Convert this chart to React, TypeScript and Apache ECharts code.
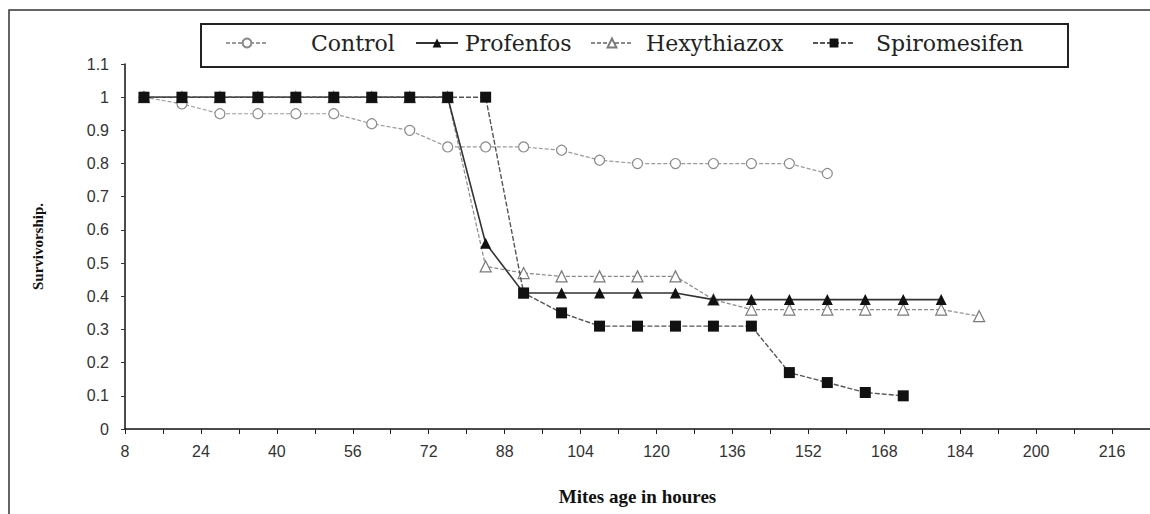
import React, { useEffect, useRef } from "react";
import * as echarts from "echarts";

const hours = [12, 20, 28, 36, 44, 52, 60, 68, 76, 84, 92, 100, 108, 116, 124, 132, 140, 148, 156, 164, 172, 180, 188];
const control = [1.0, 0.98, 0.95, 0.95, 0.95, 0.95, 0.92, 0.9, 0.85, 0.85, 0.85, 0.84, 0.81, 0.8, 0.8, 0.8, 0.8, 0.8, 0.77, null, null, null, null];
const profenfos = [1, 1, 1, 1, 1, 1, 1, 1, 1, 0.56, 0.41, 0.41, 0.41, 0.41, 0.41, 0.39, 0.39, 0.39, 0.39, 0.39, 0.39, 0.39, null];
const hexythiazox = [1, 1, 1, 1, 1, 1, 1, 1, 1, 0.49, 0.47, 0.46, 0.46, 0.46, 0.46, 0.39, 0.36, 0.36, 0.36, 0.36, 0.36, 0.36, 0.34];
const spiromesifen = [1, 1, 1, 1, 1, 1, 1, 1, 1, 1, 0.41, 0.35, 0.31, 0.31, 0.31, 0.31, 0.31, 0.17, 0.14, 0.11, 0.1, null, null];
const seriesNames = ["Control", "Profenfos", "Hexythiazox", "Spiromesifen"];
const xTitle = "Mites age in houres";
const yTitle = "Survivorship.";

function pairs(vals: (number | null)[]) {
  const out: [number, number][] = [];
  vals.forEach((v, i) => {
    if (v !== null) out.push([hours[i], v]);
  });
  return out;
}

export default function App() {
  const ref = useRef<HTMLDivElement>(null);
  useEffect(() => {
    if (!ref.current) return;
    const chart = echarts.init(ref.current, null, { renderer: "svg" });
    const styles: Record<string, any> = {
      Control: {
        symbol: "circle", symbolSize: 10,
        itemStyle: { color: "#fff", borderColor: "#8a8a8a", borderWidth: 1.2 },
        lineStyle: { color: "#9a9a9a", width: 1.2, type: [4, 2] },
        z: 2,
      },
      Profenfos: {
        symbol: "triangle", symbolSize: 11,
        itemStyle: { color: "#111", borderColor: "#111", borderWidth: 0 },
        lineStyle: { color: "#333", width: 1.6 },
        z: 4,
      },
      Hexythiazox: {
        symbol: "triangle", symbolSize: 11,
        itemStyle: { color: "#fff", borderColor: "#7a7a7a", borderWidth: 1.2 },
        lineStyle: { color: "#8a8a8a", width: 1.2, type: [4, 2] },
        z: 3,
      },
      Spiromesifen: {
        symbol: "rect", symbolSize: 11,
        itemStyle: { color: "#111", borderColor: "#111", borderWidth: 0 },
        lineStyle: { color: "#555", width: 1.4, type: [5, 2] },
        z: 5,
      },
    };
    const dataMap: Record<string, (number | null)[]> = {
      Control: control,
      Profenfos: profenfos,
      Hexythiazox: hexythiazox,
      Spiromesifen: spiromesifen,
    };
    const legendLeft = [225, 415, 590, 812];
    const legendPad = [38, 2, 8, 16];
    chart.setOption({
      animation: false,
      backgroundColor: "#fff",
      grid: { left: 125, right: 0, top: 64, bottom: 85, containLabel: false, outerBoundsMode: "none" },
      legend: seriesNames.map((n, i) => ({
        data: [n],
        left: legendLeft[i],
        top: 32,
        itemWidth: 42,
        itemHeight: 11,
        selectedMode: false,
        padding: 0,
        textStyle: { fontFamily: "DejaVu Serif", fontSize: 22, color: "#222", padding: [0, 0, 0, legendPad[i]] },
      })),
      graphic: [
        { type: "rect", shape: { x: 9, y: 10, width: 1200, height: 600 }, style: { fill: "none", stroke: "#333", lineWidth: 1.5 }, z: 0, silent: true },
        { type: "rect", shape: { x: 201, y: 24, width: 867, height: 43 }, style: { fill: "none", stroke: "#222", lineWidth: 2 }, z: 0, silent: true },
      ],
      xAxis: {
        type: "value",
        min: 8,
        max: 224,
        interval: 8,
        name: xTitle,
        nameLocation: "middle",
        nameGap: 58,
        nameTextStyle: { fontFamily: "Liberation Serif", fontWeight: "bold", fontSize: 19, color: "#111" },
        axisLine: { show: true, onZero: false, lineStyle: { color: "#111", width: 1.5 } },
        axisTick: { show: true, inside: false, length: 5, lineStyle: { color: "#222" } },
        splitLine: { show: false },
        axisLabel: {
          margin: 14,
          fontFamily: "Liberation Sans",
          fontSize: 16,
          color: "#333",
          formatter: (v: number) => ((v - 8) % 16 === 0 ? String(v) : ""),
        },
      },
      yAxis: {
        type: "value",
        min: 0,
        max: 1.1,
        interval: 0.1,
        name: yTitle,
        nameLocation: "middle",
        nameRotate: 90,
        nameGap: 80,
        nameTextStyle: { fontFamily: "Liberation Serif", fontWeight: "bold", fontSize: 15, color: "#111" },
        axisLine: { show: true, lineStyle: { color: "#111", width: 1.5 } },
        axisTick: { show: true, inside: false, length: 4, lineStyle: { color: "#333" } },
        splitLine: { show: false },
        axisLabel: {
          margin: 16,
          fontFamily: "Liberation Sans",
          fontSize: 16,
          color: "#333",
          formatter: (v: number) => String(Math.round(v * 10) / 10),
        },
      },
      series: seriesNames.map((n) => ({
        name: n,
        type: "line",
        data: pairs(dataMap[n]),
        showAllSymbol: true,
        ...styles[n],
      })),
    });
    return () => chart.dispose();
  }, []);
  return <div ref={ref} style={{ position: "fixed", left: 0, top: 0, width: 1150, height: 514 }} />;
}
